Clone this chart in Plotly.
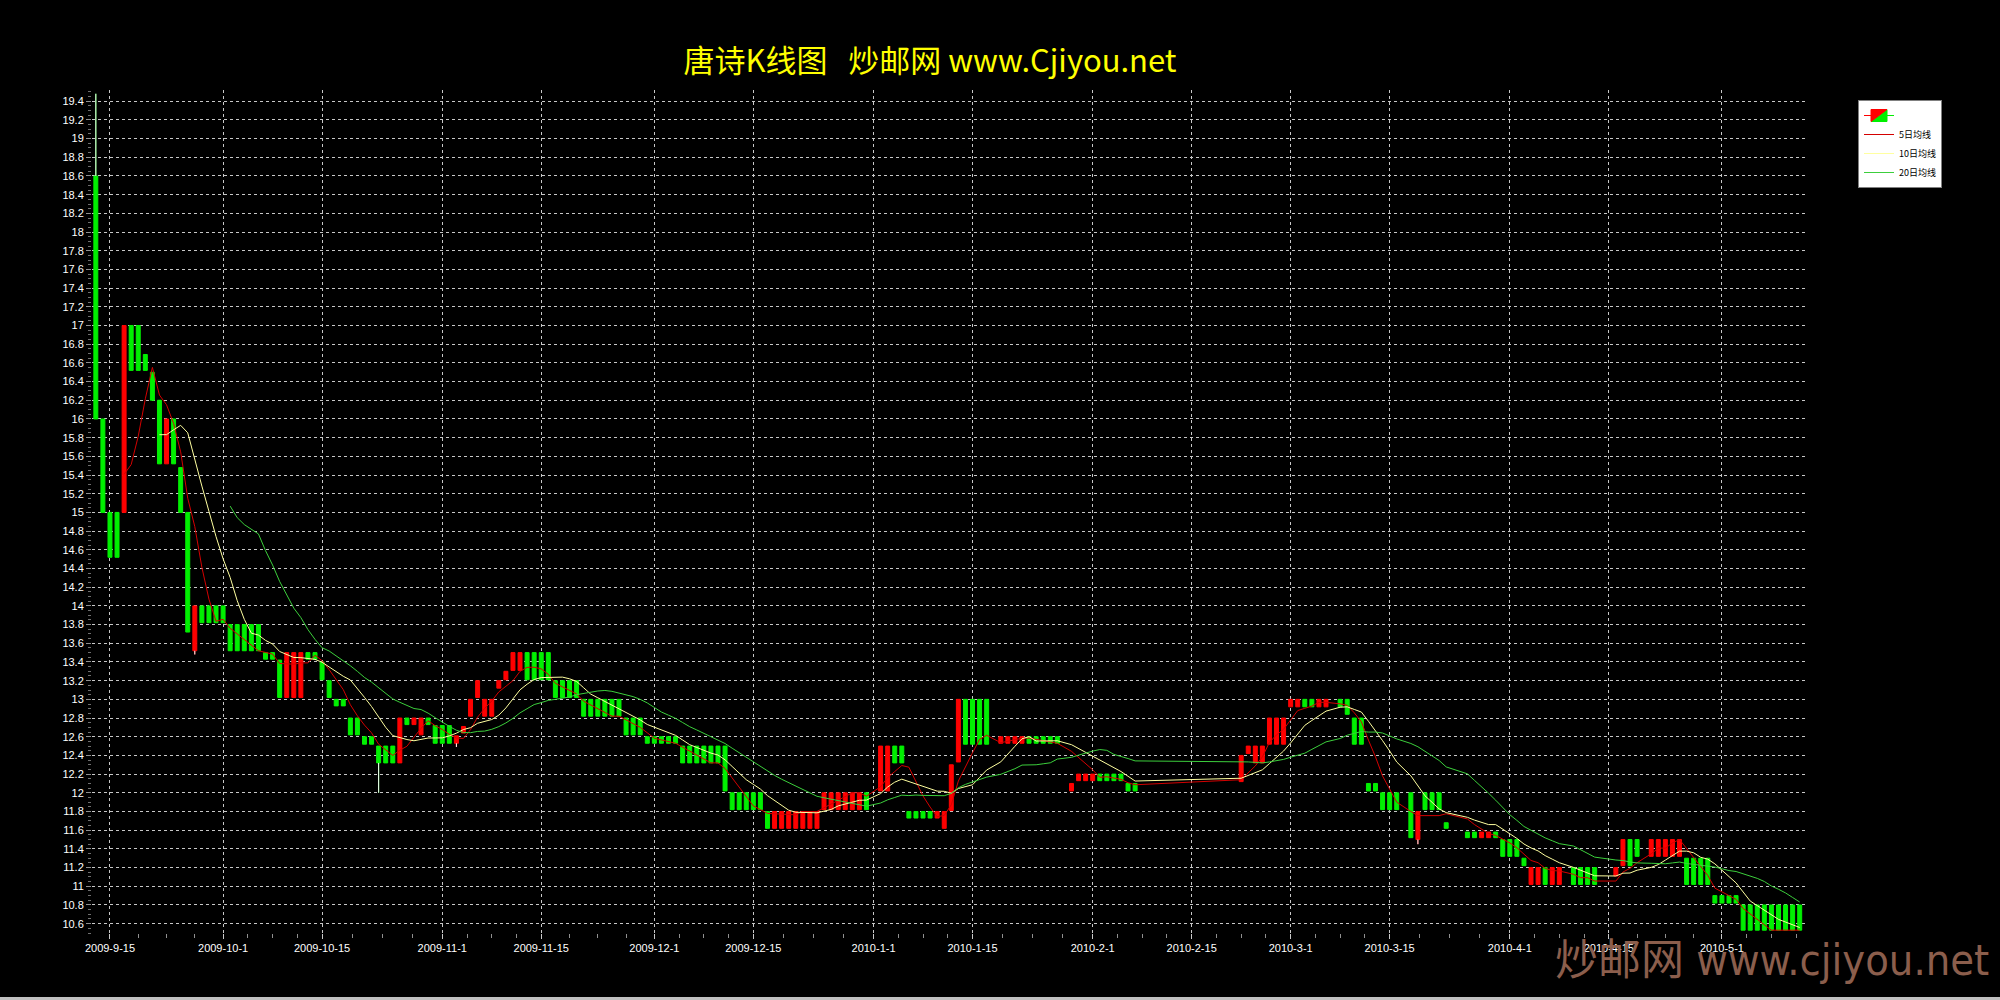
import numpy as np
import pandas as pd
import plotly.graph_objects as go

# ---------------- data ----------------
dates = [
    "2009-09-13", "2009-09-14", "2009-09-15", "2009-09-16", "2009-09-17", "2009-09-18", "2009-09-19",
    "2009-09-20", "2009-09-21", "2009-09-22", "2009-09-23", "2009-09-24", "2009-09-25", "2009-09-26",
    "2009-09-27", "2009-09-28", "2009-09-29", "2009-09-30", "2009-10-01", "2009-10-02", "2009-10-03",
    "2009-10-04", "2009-10-05", "2009-10-06", "2009-10-07", "2009-10-08", "2009-10-09", "2009-10-10",
    "2009-10-11", "2009-10-12", "2009-10-13", "2009-10-14", "2009-10-15", "2009-10-16", "2009-10-17",
    "2009-10-18", "2009-10-19", "2009-10-20", "2009-10-21", "2009-10-22", "2009-10-23", "2009-10-24",
    "2009-10-25", "2009-10-26", "2009-10-27", "2009-10-28", "2009-10-29", "2009-10-30", "2009-10-31",
    "2009-11-01", "2009-11-02", "2009-11-03", "2009-11-04", "2009-11-05", "2009-11-06", "2009-11-07",
    "2009-11-08", "2009-11-09", "2009-11-10", "2009-11-11", "2009-11-12", "2009-11-13", "2009-11-14",
    "2009-11-15", "2009-11-16", "2009-11-17", "2009-11-18", "2009-11-19", "2009-11-20", "2009-11-21",
    "2009-11-22", "2009-11-23", "2009-11-24", "2009-11-25", "2009-11-26", "2009-11-27", "2009-11-28",
    "2009-11-29", "2009-11-30", "2009-12-01", "2009-12-02", "2009-12-03", "2009-12-04", "2009-12-05",
    "2009-12-06", "2009-12-07", "2009-12-08", "2009-12-09", "2009-12-10", "2009-12-11", "2009-12-12",
    "2009-12-13", "2009-12-14", "2009-12-15", "2009-12-16", "2009-12-17", "2009-12-18", "2009-12-19",
    "2009-12-20", "2009-12-21", "2009-12-22", "2009-12-23", "2009-12-24", "2009-12-25", "2009-12-26",
    "2009-12-27", "2009-12-28", "2009-12-29", "2009-12-30", "2009-12-31",
    "2010-01-02", "2010-01-03", "2010-01-04", "2010-01-05", "2010-01-06", "2010-01-07", "2010-01-08",
    "2010-01-09", "2010-01-10", "2010-01-11", "2010-01-12", "2010-01-13", "2010-01-14", "2010-01-15",
    "2010-01-16", "2010-01-17",
    "2010-01-19", "2010-01-20", "2010-01-21", "2010-01-22", "2010-01-23", "2010-01-24", "2010-01-25",
    "2010-01-26", "2010-01-27",
    "2010-01-29", "2010-01-30", "2010-01-31", "2010-02-01", "2010-02-02", "2010-02-03", "2010-02-04",
    "2010-02-05", "2010-02-06", "2010-02-07",
    "2010-02-22", "2010-02-23", "2010-02-24", "2010-02-25", "2010-02-26", "2010-02-27", "2010-02-28",
    "2010-03-01", "2010-03-02", "2010-03-03", "2010-03-04", "2010-03-05", "2010-03-06",
    "2010-03-08", "2010-03-09", "2010-03-10", "2010-03-11", "2010-03-12", "2010-03-13", "2010-03-14",
    "2010-03-15", "2010-03-16",
    "2010-03-18", "2010-03-19", "2010-03-20", "2010-03-21", "2010-03-22", "2010-03-23",
    "2010-03-26", "2010-03-27", "2010-03-28", "2010-03-29", "2010-03-30", "2010-03-31", "2010-04-01",
    "2010-04-02", "2010-04-03", "2010-04-04", "2010-04-05", "2010-04-06", "2010-04-07", "2010-04-08",
    "2010-04-10", "2010-04-11", "2010-04-12", "2010-04-13",
    "2010-04-16", "2010-04-17", "2010-04-18", "2010-04-19",
    "2010-04-21", "2010-04-22", "2010-04-23", "2010-04-24", "2010-04-25", "2010-04-26", "2010-04-27",
    "2010-04-28", "2010-04-29", "2010-04-30", "2010-05-01", "2010-05-02", "2010-05-03", "2010-05-04",
    "2010-05-05", "2010-05-06", "2010-05-07", "2010-05-08", "2010-05-09", "2010-05-10", "2010-05-11",
    "2010-05-12",
]

opens = [
    18.60, 16.00, 15.00, 15.00, 15.00, 17.00, 17.00,
    16.69, 16.50, 16.20, 15.52, 16.00, 15.48, 15.00,
    13.52, 14.00, 14.00, 14.00, 14.00, 13.80, 13.80,
    13.80, 13.80, 13.80, 13.50, 13.50, 13.42, 13.02,
    13.02, 13.02, 13.50, 13.50, 13.40, 13.20, 13.00,
    13.00, 12.80, 12.80, 12.60, 12.60, 12.50, 12.50,
    12.50, 12.32, 12.80, 12.73, 12.62, 12.80, 12.72,
    12.72, 12.72, 12.53, 12.64, 12.82, 13.02, 12.82,
    12.82, 13.12, 13.21, 13.31, 13.31, 13.50, 13.50,
    13.50, 13.50, 13.20, 13.20, 13.20, 13.20, 13.00,
    13.00, 13.00, 13.00, 13.00, 13.00, 12.80, 12.80,
    12.80, 12.60, 12.60, 12.60, 12.60, 12.60, 12.50,
    12.50, 12.50, 12.50, 12.50, 12.50, 12.50, 12.00,
    12.00, 12.00, 12.00, 12.00, 11.80, 11.62, 11.62,
    11.62, 11.62, 11.62, 11.62, 11.62, 11.82, 11.82,
    11.82, 11.82, 11.82, 11.82, 12.00,
    12.02, 12.02, 12.50, 12.50, 11.80, 11.80, 11.80,
    11.80, 11.73, 11.62, 11.81, 12.33, 13.00, 13.00,
    13.00, 13.00,
    12.53, 12.53, 12.53, 12.53, 12.60, 12.60, 12.60,
    12.60, 12.60,
    12.02, 12.13, 12.13, 12.13, 12.20, 12.20, 12.20,
    12.20, 12.10, 12.10,
    12.12, 12.42, 12.32, 12.32, 12.52, 12.52, 12.52,
    12.92, 12.92, 13.00, 13.00, 12.92, 12.92,
    13.00, 13.00, 12.80, 12.80, 12.10, 12.10, 12.00,
    12.00, 12.00,
    12.00, 11.50, 12.00, 12.00, 12.00, 11.68,
    11.58, 11.58, 11.52, 11.52, 11.58, 11.50, 11.50,
    11.50, 11.30, 11.02, 11.02, 11.20, 11.02, 11.02,
    11.20, 11.20, 11.20, 11.20,
    11.11, 11.22, 11.50, 11.50,
    11.32, 11.32, 11.32, 11.32, 11.32, 11.30, 11.30,
    11.30, 11.30, 10.90, 10.90, 10.90, 10.90, 10.80,
    10.80, 10.80, 10.80, 10.80, 10.80, 10.80, 10.80,
    10.80,
]

highs = [
    19.48, 16.00, 15.00, 15.00, 17.00, 17.00, 17.00,
    16.69, 16.50, 16.20, 16.00, 16.00, 15.48, 15.00,
    14.00, 14.00, 14.00, 14.00, 14.00, 13.80, 13.80,
    13.80, 13.80, 13.80, 13.50, 13.50, 13.42, 13.50,
    13.50, 13.50, 13.50, 13.50, 13.40, 13.20, 13.00,
    13.00, 12.80, 12.80, 12.60, 12.60, 12.50, 12.50,
    12.50, 12.80, 12.80, 12.80, 12.80, 12.80, 12.72,
    12.72, 12.72, 12.61, 12.71, 13.00, 13.20, 13.00,
    13.00, 13.20, 13.30, 13.50, 13.50, 13.50, 13.50,
    13.50, 13.50, 13.20, 13.20, 13.20, 13.20, 13.00,
    13.00, 13.00, 13.00, 13.00, 13.00, 12.80, 12.80,
    12.80, 12.60, 12.60, 12.60, 12.60, 12.60, 12.50,
    12.50, 12.50, 12.50, 12.50, 12.50, 12.50, 12.00,
    12.00, 12.00, 12.00, 12.00, 11.80, 11.80, 11.80,
    11.80, 11.80, 11.80, 11.80, 11.80, 12.00, 12.00,
    12.00, 12.00, 12.00, 12.00, 12.00,
    12.50, 12.50, 12.50, 12.50, 11.80, 11.80, 11.80,
    11.80, 11.80, 11.80, 12.30, 13.00, 13.00, 13.00,
    13.00, 13.00,
    12.60, 12.60, 12.60, 12.60, 12.60, 12.60, 12.60,
    12.60, 12.60,
    12.10, 12.20, 12.20, 12.20, 12.20, 12.20, 12.20,
    12.20, 12.10, 12.10,
    12.40, 12.50, 12.50, 12.50, 12.80, 12.80, 12.80,
    13.00, 13.00, 13.00, 13.00, 13.00, 13.00,
    13.00, 13.00, 12.80, 12.80, 12.10, 12.10, 12.00,
    12.00, 12.00,
    12.00, 11.80, 12.00, 12.00, 12.00, 11.68,
    11.58, 11.58, 11.58, 11.58, 11.58, 11.50, 11.50,
    11.50, 11.30, 11.20, 11.20, 11.20, 11.20, 11.20,
    11.20, 11.20, 11.20, 11.20,
    11.20, 11.50, 11.50, 11.50,
    11.50, 11.50, 11.50, 11.50, 11.50, 11.30, 11.30,
    11.30, 11.30, 10.90, 10.90, 10.90, 10.90, 10.80,
    10.80, 10.80, 10.80, 10.80, 10.80, 10.80, 10.80,
    10.80,
]

lows = [
    16.00, 15.00, 14.52, 14.52, 15.00, 16.52, 16.52,
    16.52, 16.20, 15.52, 15.52, 15.52, 15.00, 13.72,
    13.48, 13.82, 13.82, 13.82, 13.82, 13.52, 13.52,
    13.52, 13.52, 13.52, 13.43, 13.43, 13.02, 13.02,
    13.02, 13.02, 13.43, 13.43, 13.21, 13.02, 12.93,
    12.93, 12.62, 12.62, 12.52, 12.52, 12.00, 12.32,
    12.32, 12.32, 12.73, 12.73, 12.62, 12.73, 12.53,
    12.53, 12.53, 12.49, 12.64, 12.82, 13.02, 12.82,
    12.82, 13.12, 13.21, 13.31, 13.31, 13.21, 13.21,
    13.21, 13.21, 13.02, 13.02, 13.02, 13.02, 12.82,
    12.82, 12.82, 12.82, 12.82, 12.82, 12.62, 12.62,
    12.62, 12.53, 12.53, 12.53, 12.53, 12.53, 12.32,
    12.32, 12.32, 12.32, 12.32, 12.32, 12.02, 11.82,
    11.82, 11.82, 11.82, 11.82, 11.62, 11.62, 11.62,
    11.62, 11.62, 11.62, 11.62, 11.62, 11.82, 11.82,
    11.82, 11.82, 11.82, 11.82, 11.82,
    12.02, 12.02, 12.32, 12.32, 11.73, 11.73, 11.73,
    11.73, 11.73, 11.62, 11.81, 12.33, 12.52, 12.52,
    12.52, 12.52,
    12.53, 12.53, 12.53, 12.53, 12.53, 12.53, 12.53,
    12.53, 12.53,
    12.02, 12.13, 12.13, 12.13, 12.13, 12.13, 12.13,
    12.13, 12.02, 12.02,
    12.12, 12.42, 12.32, 12.32, 12.52, 12.52, 12.52,
    12.92, 12.92, 12.92, 12.92, 12.92, 12.92,
    12.92, 12.84, 12.52, 12.52, 12.02, 12.02, 11.82,
    11.82, 11.82,
    11.52, 11.45, 11.82, 11.82, 11.82, 11.62,
    11.52, 11.52, 11.52, 11.52, 11.52, 11.32, 11.32,
    11.32, 11.22, 11.02, 11.02, 11.02, 11.02, 11.02,
    11.02, 11.02, 11.02, 11.02,
    11.11, 11.22, 11.22, 11.32,
    11.32, 11.32, 11.32, 11.32, 11.32, 11.02, 11.02,
    11.02, 11.02, 10.82, 10.82, 10.82, 10.82, 10.53,
    10.53, 10.53, 10.53, 10.53, 10.53, 10.53, 10.53,
    10.53,
]

closes = [
    16.00, 15.00, 14.52, 14.52, 17.00, 16.52, 16.52,
    16.52, 16.20, 15.52, 16.00, 15.52, 15.00, 13.72,
    14.00, 13.82, 13.82, 13.82, 13.82, 13.52, 13.52,
    13.52, 13.52, 13.52, 13.43, 13.43, 13.02, 13.50,
    13.50, 13.50, 13.43, 13.43, 13.21, 13.02, 12.93,
    12.93, 12.62, 12.62, 12.52, 12.52, 12.32, 12.32,
    12.32, 12.80, 12.73, 12.80, 12.80, 12.73, 12.53,
    12.53, 12.53, 12.61, 12.71, 13.00, 13.20, 13.00,
    13.00, 13.20, 13.30, 13.50, 13.50, 13.21, 13.21,
    13.21, 13.21, 13.02, 13.02, 13.02, 13.02, 12.82,
    12.82, 12.82, 12.82, 12.82, 12.82, 12.62, 12.62,
    12.62, 12.53, 12.53, 12.53, 12.53, 12.53, 12.32,
    12.32, 12.32, 12.32, 12.32, 12.32, 12.02, 11.82,
    11.82, 11.82, 11.82, 11.82, 11.62, 11.80, 11.80,
    11.80, 11.80, 11.80, 11.80, 11.80, 12.00, 12.00,
    12.00, 12.00, 12.00, 12.00, 11.82,
    12.50, 12.50, 12.32, 12.32, 11.73, 11.73, 11.73,
    11.73, 11.80, 11.80, 12.30, 13.00, 12.52, 12.52,
    12.52, 12.52,
    12.60, 12.60, 12.60, 12.60, 12.53, 12.53, 12.53,
    12.53, 12.53,
    12.10, 12.20, 12.20, 12.20, 12.13, 12.13, 12.13,
    12.13, 12.02, 12.02,
    12.40, 12.50, 12.50, 12.50, 12.80, 12.80, 12.80,
    13.00, 13.00, 12.92, 12.92, 13.00, 13.00,
    12.92, 12.84, 12.52, 12.52, 12.02, 12.02, 11.82,
    11.82, 11.82,
    11.52, 11.80, 11.82, 11.82, 11.82, 11.62,
    11.52, 11.52, 11.58, 11.58, 11.52, 11.32, 11.32,
    11.32, 11.22, 11.20, 11.20, 11.02, 11.20, 11.20,
    11.02, 11.02, 11.02, 11.02,
    11.20, 11.50, 11.22, 11.32,
    11.50, 11.50, 11.50, 11.50, 11.50, 11.02, 11.02,
    11.02, 11.02, 10.82, 10.82, 10.82, 10.82, 10.53,
    10.53, 10.53, 10.53, 10.53, 10.53, 10.53, 10.53,
    10.53,
]

x_tick_labels = [
    "2009-9-15", "2009-10-1", "2009-10-15", "2009-11-1", "2009-11-15", "2009-12-1",
    "2009-12-15", "2010-1-1", "2010-1-15", "2010-2-1", "2010-2-15", "2010-3-1",
    "2010-3-15", "2010-4-1", "2010-4-15", "2010-5-1",
]

ma_windows = [5, 10, 20]
ma_names = ["5日均线", "10日均线", "20日均线"]
ma_colors = ["#d40000", "#ffffa0", "#3ccf3c"]

title_text = "唐诗K线图\u00a0\u00a0\u00a0炒邮网 www.Cjiyou.net"
watermark_text = "炒邮网 www.cjiyou.net"

# ---------------- figure ----------------
x = pd.to_datetime(pd.Series(dates))
close_s = pd.Series(closes)

fig = go.Figure()

fig.add_trace(go.Candlestick(
    x=x, open=opens, high=highs, low=lows, close=closes,
    name=" ",
    increasing=dict(line=dict(color="#ff0000", width=1), fillcolor="#ff0000"),
    decreasing=dict(line=dict(color="#00f000", width=1), fillcolor="#00f000"),
    hoverinfo="skip",
    showlegend=True,
))

# white wicks (parts of high/low outside the body)
wx, wy = [], []
for d, o, h, l, c in zip(x, opens, highs, lows, closes):
    top, bot = max(o, c), min(o, c)
    if h > top:
        wx += [d, d, None]
        wy += [top, h, None]
    if l < bot:
        wx += [d, d, None]
        wy += [l, bot, None]
fig.add_trace(go.Scatter(x=wx, y=wy, mode="lines", line=dict(color="#ffffff", width=1),
                         showlegend=False, hoverinfo="skip"))

for w, n, col in zip(ma_windows, ma_names, ma_colors):
    ma = close_s.rolling(w).mean()
    fig.add_trace(go.Scatter(x=x, y=ma, mode="lines", name=n,
                             line=dict(color=col, width=1), hoverinfo="skip"))

# axis ticks
tick_dates = pd.to_datetime(pd.Series(x_tick_labels))
minor_vals = []
ext = list(tick_dates) + [pd.Timestamp("2010-05-15")]
for a, b in zip(ext[:-1], ext[1:]):
    for k in (1, 2, 3):
        minor_vals.append(a + (b - a) * k / 4)

y_vals = np.round(np.arange(10.6, 19.41, 0.2), 1)
y_text = [f"{v:g}" for v in y_vals]

L, R, T, B = 92, 195, 90, 67
W, H = 2000, 1000
pw, ph = W - L - R, H - T - B

grid = dict(gridcolor="#c8c8c8", griddash="3px,3px", gridwidth=1)
tickfont = dict(family="Liberation Sans, Arial, sans-serif", size=11, color="#ffffff")

fig.update_layout(
    width=W, height=H,
    margin=dict(l=L, r=R, t=T, b=B, pad=0),
    paper_bgcolor="#000000", plot_bgcolor="#000000",
    boxgap=0.2,
    hovermode=False,
    title=dict(text=title_text, x=930 / W, y=1 - 61 / H, xref="container", yref="container",
               xanchor="center", yanchor="middle",
               font=dict(family="Noto Sans CJK SC, sans-serif", size=31, color="#ffff00")),
    legend=dict(x=(1858 - L) / pw, y=(H - B - 100) / ph, xanchor="left", yanchor="top",
                bgcolor="#ffffff", bordercolor="#808080", borderwidth=1,
                font=dict(family="Noto Sans CJK SC, sans-serif", size=9, color="#000000"),
                itemwidth=30, tracegroupgap=0),
    xaxis=dict(
        type="date",
        range=["2009-09-12 11:00", "2010-05-12 18:00"],
        tickmode="array", tickvals=tick_dates, ticktext=x_tick_labels,
        ticks="outside", ticklen=5, tickcolor="#c8c8c8", tickfont=tickfont,
        showgrid=True, **grid,
        minor=dict(tickmode="array", tickvals=minor_vals, ticks="outside", ticklen=4,
                   tickcolor="#909090", showgrid=False),
        showline=False, zeroline=False,
        rangeslider=dict(visible=False),
        fixedrange=True,
    ),
    yaxis=dict(
        range=[10.5, 19.52],
        tickmode="array", tickvals=y_vals, ticktext=y_text,
        ticks="outside", ticklen=5, tickcolor="#909090", tickfont=tickfont,
        showgrid=True, **grid,
        minor=dict(dtick=0.05, tick0=10.6, ticks="outside", ticklen=3,
                   tickcolor="#707070", showgrid=False),
        showline=False, zeroline=False,
        fixedrange=True,
    ),
    annotations=[dict(
        text=watermark_text, xref="paper", yref="paper",
        x=(1553 - L) / pw, y=(H - B - 960) / ph, xanchor="left", yanchor="middle",
        showarrow=False,
        font=dict(family="DejaVu Sans Condensed, Noto Sans CJK SC, sans-serif",
                  size=43, color="#8b5e4c"),
    )],
    shapes=[dict(type="rect", xref="paper", yref="paper",
                 x0=-L / pw, x1=(W - L) / pw, y0=-(B) / ph, y1=-(B - 3) / ph,
                 fillcolor="#c0c0c0", line=dict(width=0), layer="above")],
)

fig.write_html(
    "out.html",
    config={"displayModeBar": False},
    post_script="document.body.style.margin='0';document.body.style.background='#000';",
)
